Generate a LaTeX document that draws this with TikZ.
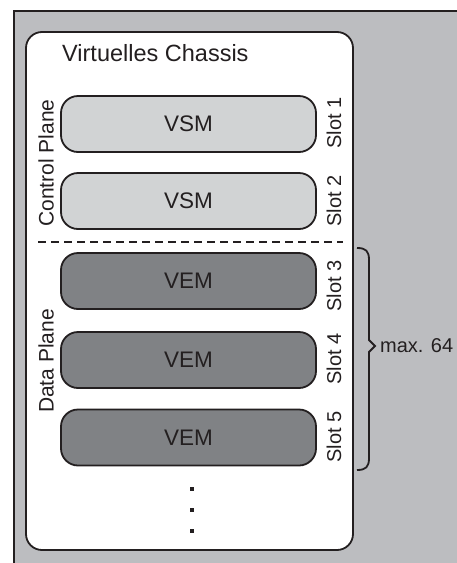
\documentclass[tikz,border=0pt]{standalone}
\usepackage{fontspec}
\setmainfont{Liberation Sans}
\definecolor{bggray}{HTML}{BCBDC0}
\definecolor{lightbox}{HTML}{D1D3D4}
\definecolor{darkbox}{HTML}{808285}
\definecolor{ink}{HTML}{231F20}
\tikzset{
  modbox/.style={draw=ink, line width=1.8pt, rounded corners=17pt, minimum width=255pt, minimum height=56pt, inner sep=0pt, font=\fontsize{22.5}{24}\selectfont, text=ink},
  vsmbox/.style={modbox, fill=lightbox},
  vembox/.style={modbox, fill=darkbox},
  slotlabel/.style={rotate=90, inner sep=0pt, font=\fontsize{20}{22}\selectfont, text=ink},
  planelabel/.style={rotate=90, inner sep=0pt, font=\fontsize{21}{23}\selectfont, text=ink},
  dotmark/.style={fill=ink, draw=none, minimum size=3.2pt, inner sep=0pt}
}
\begin{document}
\begin{tikzpicture}[x=1pt, y=-1pt]
\useasboundingbox (0,0) rectangle (456,563);
% outer gray panel
\draw[ink, line width=1.8pt, fill=bggray] (14,11) rectangle (480,590);
% virtual chassis
\draw[ink, line width=1.8pt, fill=white, rounded corners=16pt] (26,32) rectangle (353,550);
\node[anchor=base west, inner sep=0pt, font=\fontsize{23.5}{26}\selectfont, text=ink] (title) at (62,61) {Virtuelles Chassis};
% modules
\node[vsmbox] (vsm1) at (188.5,124) {VSM};
\node[vsmbox] (vsm2) at (188.5,201) {VSM};
\node[vembox] (vem1) at (188.5,281) {VEM};
\node[vembox] (vem2) at (188.5,360) {VEM};
\node[vembox] (vem3) at (188.5,437.5) {VEM};
% separator
\coordinate (sepL) at (38,242);
\coordinate (sepR) at (343,242);
\draw[ink, line width=1.8pt, dash pattern=on 8pt off 5pt] (sepL) -- (sepR);
% slot labels
\node[slotlabel] (s1) at (334,123) {Slot 1};
\node[slotlabel] (s2) at (334,201) {Slot 2};
\node[slotlabel] (s3) at (334,286) {Slot 3};
\node[slotlabel] (s4) at (334,359) {Slot 4};
\node[slotlabel] (s5) at (334,437) {Slot 5};
% plane labels
\node[planelabel] (cp) at (46,163) {Control Plane};
\node[planelabel] (dp) at (46,361) {Data Plane};
% dots
\node[dotmark] (d1) at (192,489) {};
\node[dotmark] (d2) at (192,510) {};
\node[dotmark] (d3) at (192,531) {};
% brace
\coordinate (bTop) at (357,248);
\coordinate (bTip) at (375,346);
\coordinate (bBot) at (357,470);
\draw[ink, line width=1.8pt, line join=miter]
  (bTop) .. controls (366,248) and (369,251) .. (369,260)
  -- (369,340) -- (bTip) -- (369,352) -- (369,458)
  .. controls (369,467) and (366,470) .. (bBot);
\node[anchor=west, inner sep=0pt, font=\fontsize{20}{23}\selectfont, text=ink] (max) at (380,346) {max. 64};
\end{tikzpicture}
\end{document}
